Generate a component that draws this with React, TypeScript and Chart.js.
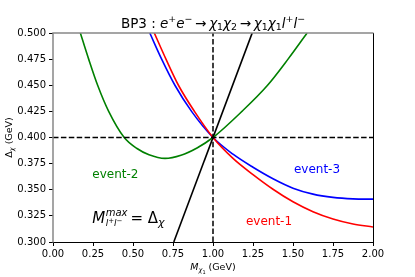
import React, { useEffect, useRef } from "react";
import { Chart, registerables } from "chart.js";

Chart.register(...registerables);

// ---- data ----
const event1X = [0.633, 0.706, 0.784, 0.884, 1.0, 1.125, 1.25, 1.375, 1.5, 1.625, 1.75, 1.875, 2.0];
const event1Y = [0.5, 0.475, 0.45, 0.425, 0.4, 0.38, 0.3645, 0.3505, 0.3385, 0.329, 0.322, 0.3172, 0.3144];

const event3X = [0.605, 0.679, 0.762, 0.866, 1.0, 1.125, 1.25, 1.375, 1.5, 1.625, 1.75, 1.875, 2.0];
const event3Y = [0.5, 0.475, 0.45, 0.425, 0.4, 0.384, 0.3715, 0.3605, 0.3515, 0.3458, 0.3427, 0.3413, 0.341];

const event2X = [0.171, 0.223, 0.279, 0.348, 0.445, 0.525, 0.6, 0.7, 0.8, 0.9, 1.0, 1.181, 1.341, 1.469, 1.588];
const event2Y = [0.5, 0.475, 0.45, 0.425, 0.4, 0.3895, 0.3835, 0.38, 0.383, 0.39, 0.4, 0.425, 0.45, 0.475, 0.5];

const lineX = [0.755, 1.245];
const lineY = [0.3, 0.5];

const vDashX = [1.0, 1.0];
const vDashY = [0.3, 0.5];
const hDashX = [0.0, 2.0];
const hDashY = [0.4, 0.4];

const xTicks = [0, 0.25, 0.5, 0.75, 1.0, 1.25, 1.5, 1.75, 2.0];
const yTicks = [0.3, 0.325, 0.35, 0.375, 0.4, 0.425, 0.45, 0.475, 0.5];

const labelsText = [
  { text: "event-2", x: 0.39, y: 0.364, color: "#008000" },
  { text: "event-3", x: 1.65, y: 0.369, color: "#0000ff" },
  { text: "event-1", x: 1.35, y: 0.319, color: "#ff0000" },
];

const FONT = "'DejaVu Sans', sans-serif";

type Seg = { t: string; i?: boolean; s?: "sup" | "sub" };

function segFont(seg: Seg, size: number) {
  const sz = seg.s ? size * 0.7 : size;
  return `${seg.i ? "italic " : ""}${sz}px ${FONT}`;
}

function richWidth(ctx: CanvasRenderingContext2D, segs: Seg[], size: number) {
  let w = 0;
  for (const sg of segs) {
    ctx.font = segFont(sg, size);
    w += ctx.measureText(sg.t).width;
  }
  return w;
}

function drawRich(ctx: CanvasRenderingContext2D, segs: Seg[], x: number, y: number, size: number, color: string) {
  ctx.save();
  ctx.fillStyle = color;
  ctx.textBaseline = "alphabetic";
  ctx.textAlign = "left";
  let cx = x;
  for (const sg of segs) {
    ctx.font = segFont(sg, size);
    let dy = 0;
    if (sg.s === "sup") dy = -size * 0.42;
    if (sg.s === "sub") dy = size * 0.22;
    ctx.fillText(sg.t, cx, y + dy);
    cx += ctx.measureText(sg.t).width;
  }
  ctx.restore();
}

const titleSegs: Seg[] = [
  { t: "BP3 : " },
  { t: "e", i: true },
  { t: "+", s: "sup" },
  { t: "e", i: true },
  { t: "\u2212", s: "sup" },
  { t: "\u2009\u2192\u2009" },
  { t: "\u03c7", i: true },
  { t: "1", s: "sub" },
  { t: "\u03c7", i: true },
  { t: "2", s: "sub" },
  { t: "\u2009\u2192\u2009" },
  { t: "\u03c7", i: true },
  { t: "1", s: "sub" },
  { t: "\u03c7", i: true },
  { t: "1", s: "sub" },
  { t: "l", i: true },
  { t: "+", s: "sup" },
  { t: "l", i: true },
  { t: "\u2212", s: "sup" },
];

const xLabelSegs: Seg[] = [
  { t: "M", i: true },
  { t: "\u03c7", i: true, s: "sub" },
  { t: "  (GeV)" },
];

const yLabelSegs: Seg[] = [
  { t: "\u0394" },
  { t: "\u03c7", i: true, s: "sub" },
  { t: " (GeV)" },
];

function pts(xs: number[], ys: number[]) {
  return xs.map((x, k) => ({ x, y: ys[k] }));
}

const overlay = {
  id: "overlay",
  afterDatasetsDraw(chart: any) {
    const ctx: CanvasRenderingContext2D = chart.ctx;
    const { left, right, top, bottom } = chart.chartArea;
    const xs = chart.scales.x;
    const ys = chart.scales.y;

    // frame
    ctx.save();
    ctx.lineWidth = 1;
    ctx.strokeStyle = "#000";
    ctx.beginPath();
    ctx.moveTo(left, bottom + 0.5);
    ctx.lineTo(right + 0.5, bottom + 0.5);
    ctx.lineTo(right + 0.5, top);
    ctx.stroke();
    ctx.strokeStyle = "#888";
    ctx.lineWidth = 1.5;
    ctx.beginPath();
    ctx.moveTo(left, bottom + 0.5);
    ctx.lineTo(left, top);
    ctx.lineTo(right + 0.5, top);
    ctx.stroke();
    ctx.restore();

    // event labels
    ctx.save();
    ctx.font = `12px ${FONT}`;
    ctx.textAlign = "center";
    ctx.textBaseline = "middle";
    for (const l of labelsText) {
      ctx.fillStyle = l.color;
      ctx.fillText(l.text, xs.getPixelForValue(l.x), ys.getPixelForValue(l.y));
    }
    ctx.restore();

    // formula M^{max}_{l+l-} = Δχ
    ctx.save();
    ctx.fillStyle = "#000";
    const fx = xs.getPixelForValue(0.245);
    const fy = ys.getPixelForValue(0.3185);
    ctx.textBaseline = "alphabetic";
    ctx.font = `italic 15px ${FONT}`;
    ctx.fillText("M", fx, fy);
    let cx = fx + ctx.measureText("M").width + 0.5;
    ctx.font = `italic 10px ${FONT}`;
    ctx.fillText("max", cx, fy - 7);
    const w1 = ctx.measureText("max").width;
    const subY = fy + 3.5;
    let sx = cx;
    ctx.font = `italic 9px ${FONT}`;
    ctx.fillText("l", sx, subY);
    sx += ctx.measureText("l").width;
    ctx.font = `7px ${FONT}`;
    ctx.fillText("+", sx, subY - 3.5);
    sx += ctx.measureText("+").width;
    ctx.font = `italic 9px ${FONT}`;
    ctx.fillText("l", sx, subY);
    sx += ctx.measureText("l").width;
    ctx.font = `7px ${FONT}`;
    ctx.fillText("\u2212", sx, subY - 3.5);
    sx += ctx.measureText("\u2212").width;
    cx = Math.max(cx + w1, sx) + 3;
    ctx.font = `15px ${FONT}`;
    ctx.fillText("= \u0394", cx, fy);
    cx += ctx.measureText("= \u0394").width;
    ctx.font = `italic 11px ${FONT}`;
    ctx.fillText("\u03c7", cx, fy + 3);
    ctx.restore();

    // title
    const TS = 13.5;
    const tw = richWidth(ctx, titleSegs, TS);
    const tcx = (left + right) / 2;
    drawRich(ctx, titleSegs, tcx - tw / 2, 27.5, TS, "#000");

    // x label
    const xw = richWidth(ctx, xLabelSegs, 9.5);
    drawRich(ctx, xLabelSegs, tcx - xw / 2, 270, 9.5, "#000");
    ctx.save();
    ctx.fillStyle = "#000";
    ctx.font = `italic 9.5px ${FONT}`;
    const mW = ctx.measureText("M").width;
    ctx.font = `italic ${9.5 * 0.7}px ${FONT}`;
    const chiW = ctx.measureText("\u03c7").width;
    ctx.font = `5px ${FONT}`;
    ctx.fillText("1", tcx - xw / 2 + mW + chiW, 270 + 3.5);
    ctx.restore();

    // y label
    ctx.save();
    const yw = richWidth(ctx, yLabelSegs, 9.5);
    ctx.translate(12, (top + bottom) / 2);
    ctx.rotate(-Math.PI / 2);
    drawRich(ctx, yLabelSegs, -yw / 2, 0, 9.5, "#000");
    ctx.restore();
  },
};

export default function App() {
  const ref = useRef<HTMLCanvasElement | null>(null);

  useEffect(() => {
    if (!ref.current) return;
    const curve = (xs: number[], ys: number[], color: string) => ({
      data: pts(xs, ys),
      borderColor: color,
      borderWidth: 1.6,
      pointRadius: 0,
      showLine: true,
      fill: false,
      cubicInterpolationMode: "monotone" as const,
    });
    const straight = (xs: number[], ys: number[], dash: number[], w: number) => ({
      data: pts(xs, ys),
      borderColor: "#000",
      borderWidth: w,
      borderDash: dash,
      pointRadius: 0,
      showLine: true,
      fill: false,
      tension: 0,
    });
    const chart = new Chart(ref.current, {
      type: "scatter",
      data: {
        datasets: [
          straight(vDashX, vDashY, [5.5, 2.4], 1.5),
          straight(hDashX, hDashY, [5.5, 2.4], 1.5),
          curve(event1X, event1Y, "#ff0000"),
          curve(event3X, event3Y, "#0000ff"),
          curve(event2X, event2Y, "#008000"),
          straight(lineX, lineY, [], 1.6),
        ] as any,
      },
      plugins: [overlay],
      options: {
        animation: false,
        responsive: false,
        maintainAspectRatio: false,
        layout: { padding: { top: 33, right: 42, left: 0, bottom: 0 } },
        plugins: {
          legend: { display: false },
          title: { display: false },
          tooltip: { enabled: false },
        },
        scales: {
          x: {
            type: "linear",
            min: 0,
            max: 2,
            afterBuildTicks: (s: any) => {
              s.ticks = xTicks.map((v) => ({ value: v }));
            },
            afterFit: (s: any) => {
              s.height = 35;
            },
            ticks: {
              color: "#000",
              font: { family: "'DejaVu Sans', sans-serif", size: 10 },
              padding: 2,
              maxRotation: 0,
              autoSkip: false,
              callback: (v: any) => Number(v).toFixed(2),
            },
            grid: { drawOnChartArea: false, drawTicks: true, tickLength: 4, color: "#000" },
            border: { display: false },
          },
          y: {
            type: "linear",
            min: 0.3,
            max: 0.5,
            afterBuildTicks: (s: any) => {
              s.ticks = yTicks.map((v) => ({ value: v }));
            },
            afterFit: (s: any) => {
              s.width = 53;
            },
            ticks: {
              color: "#000",
              font: { family: "'DejaVu Sans', sans-serif", size: 10 },
              padding: 3,
              autoSkip: false,
              callback: (v: any) => Number(v).toFixed(3),
            },
            grid: { drawOnChartArea: false, drawTicks: true, tickLength: 4, color: "#000" },
            border: { display: false },
          },
        },
      } as any,
    });
    return () => chart.destroy();
  }, []);

  return (
    <div style={{ position: "absolute", left: 0, top: 0, width: 415, height: 277, background: "#fff" }}>
      <canvas ref={ref} width={415} height={277} style={{ display: "block", width: 415, height: 277 }} />
    </div>
  );
}
